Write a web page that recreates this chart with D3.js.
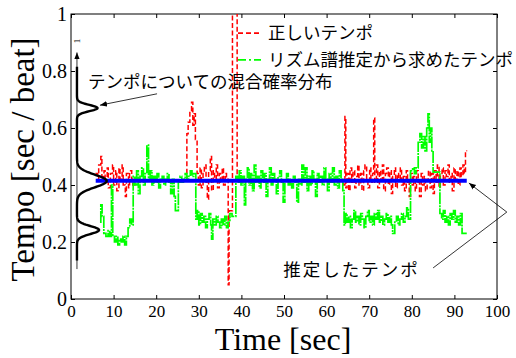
<!DOCTYPE html>
<html>
<head>
<meta charset="utf-8">
<script src="https://cdn.jsdelivr.net/npm/d3@7"></script>
<style>
  body { margin: 0; background: #fff; }
</style>
</head>
<body>
<svg id="chart" width="516" height="358"></svg>
<script>
// axis ticks
const xTicks = [0, 10, 20, 30, 40, 50, 60, 70, 80, 90, 100];
const yTicks = [0, 0.2, 0.4, 0.6, 0.8, 1];

// red dashed: true tempo [time sec, sec/beat]
const trueTempo = [
  [5.75, 0.44], [6.25, 0.42], [6.5, 0.47], [7.0, 0.50], [7.25, 0.43], [7.75, 0.45], [8.0, 0.41],
  [8.5, 0.46], [8.75, 0.39], [9.25, 0.44], [9.75, 0.47], [10.0, 0.40], [10.5, 0.45], [10.75, 0.38],
  [11.25, 0.46], [11.5, 0.42], [12.0, 0.47], [12.25, 0.40], [12.75, 0.36], [13.0, 0.44],
  [13.5, 0.39], [13.75, 0.45], [14.25, 0.42], [14.5, 0.40], [15.0, 0.415],
  [27.2, 0.58], [27.5, 0.62], [27.9, 0.66], [28.3, 0.69], [28.6, 0.61], [28.9, 0.65], [29.2, 0.56],
  [29.6, 0.44], [29.9, 0.40], [30.3, 0.46], [30.6, 0.39], [31.0, 0.44], [31.3, 0.47], [31.7, 0.41],
  [32.0, 0.35], [32.3, 0.45], [32.7, 0.50], [33.0, 0.38], [33.4, 0.45], [33.7, 0.42], [34.1, 0.47],
  [34.4, 0.39], [34.8, 0.44], [35.1, 0.41], [35.5, 0.46], [35.8, 0.40], [36.2, 0.44], [36.5, 0.42],
  [36.9, 0.05], [37.1, 0.31], [37.9, 1.3], [39.0, 0.42], [39.4, 0.415],
  [64.0, 0.40], [64.3, 0.64], [64.5, 0.39], [64.8, 0.44], [65.2, 0.38], [65.5, 0.46], [65.9, 0.41],
  [66.2, 0.45], [66.6, 0.39], [66.9, 0.43], [67.3, 0.47], [67.6, 0.40], [68.0, 0.44], [68.3, 0.38],
  [68.7, 0.45], [69.0, 0.47], [69.4, 0.42], [69.7, 0.39], [70.1, 0.46], [70.4, 0.41], [70.8, 0.44],
  [71.05, 0.635], [71.3, 0.41], [71.7, 0.47], [72.0, 0.39], [72.4, 0.45], [72.7, 0.42],
  [73.1, 0.47], [73.4, 0.38], [73.8, 0.44], [74.1, 0.46], [74.5, 0.40], [74.8, 0.45], [75.2, 0.37],
  [75.5, 0.43], [75.9, 0.46], [76.2, 0.39], [76.6, 0.44], [76.9, 0.42], [77.3, 0.46], [77.6, 0.40],
  [78.0, 0.43], [78.3, 0.38], [78.7, 0.45], [79.0, 0.41], [79.4, 0.36], [79.7, 0.44], [80.1, 0.40],
  [80.4, 0.43], [80.8, 0.38], [81.1, 0.45], [81.5, 0.41], [81.8, 0.36], [82.2, 0.44], [82.5, 0.40],
  [82.9, 0.43], [83.2, 0.38], [83.6, 0.42], [83.9, 0.45], [84.3, 0.39], [84.6, 0.44], [85.0, 0.37],
  [85.3, 0.45], [85.7, 0.41], [86.0, 0.47], [86.4, 0.39], [86.7, 0.44], [87.1, 0.46], [87.4, 0.40],
  [87.8, 0.45], [88.1, 0.43], [88.5, 0.47], [88.8, 0.41], [89.2, 0.44], [89.5, 0.38], [89.9, 0.46],
  [90.2, 0.42], [90.6, 0.45], [90.9, 0.40], [91.3, 0.46], [91.6, 0.43], [92.0, 0.47], [92.3, 0.44],
  [92.6, 0.52], [93.0, 0.52]
];

// green dash-dot: tempo from estimated rhythm score
const rhythmTempo = [
  [6.8, 0.27], [7.0, 0.33], [7.3, 0.29], [7.7, 0.23], [8.2, 0.22], [8.7, 0.24], [9.1, 0.22],
  [9.5, 0.40], [9.8, 0.22], [10.2, 0.20], [10.6, 0.22], [11.0, 0.19], [11.4, 0.21], [11.8, 0.20],
  [12.2, 0.22], [12.6, 0.19], [13.0, 0.22], [13.4, 0.25], [13.8, 0.28], [14.2, 0.26],
  [14.6, 0.43], [15.0, 0.40], [15.4, 0.45], [15.8, 0.37], [16.2, 0.43], [16.6, 0.46], [17.0, 0.40],
  [17.4, 0.44], [17.8, 0.54], [18.2, 0.42], [18.6, 0.45], [19.0, 0.40], [19.4, 0.43], [19.8, 0.41],
  [20.2, 0.44], [20.6, 0.39], [21.0, 0.42], [21.4, 0.43], [21.8, 0.40], [22.2, 0.42], [22.6, 0.44],
  [23.0, 0.41], [23.4, 0.37], [23.8, 0.42], [24.2, 0.36], [24.5, 0.31], [25.2, 0.41], [25.6, 0.43],
  [26.0, 0.41], [26.4, 0.42], [26.8, 0.44], [27.2, 0.42], [27.6, 0.43], [28.0, 0.45], [28.4, 0.43],
  [28.8, 0.44], [29.3, 0.28], [29.6, 0.31], [30.0, 0.26], [30.4, 0.30], [30.8, 0.27], [31.2, 0.29],
  [31.6, 0.25], [32.0, 0.28], [32.4, 0.30], [32.8, 0.26], [33.0, 0.21], [33.3, 0.28], [33.7, 0.26],
  [34.1, 0.29], [34.5, 0.27], [34.9, 0.25], [35.3, 0.28], [35.7, 0.26], [36.1, 0.29], [36.5, 0.25],
  [36.9, 0.27], [37.3, 0.30], [37.8, 0.29], [38.7, 0.43], [39.1, 0.41], [39.5, 0.45], [39.9, 0.40],
  [40.3, 0.43], [40.7, 0.33], [41.0, 0.42], [41.4, 0.46], [41.8, 0.40], [42.2, 0.44], [42.6, 0.38],
  [43.0, 0.47], [43.4, 0.41], [43.8, 0.43], [44.2, 0.39], [44.6, 0.45], [45.0, 0.41], [45.4, 0.44],
  [45.8, 0.36], [46.2, 0.42], [46.6, 0.46], [47.0, 0.40], [47.4, 0.44], [47.8, 0.42], [48.2, 0.37],
  [48.6, 0.43], [49.0, 0.45], [49.4, 0.41], [49.8, 0.34], [50.2, 0.42], [50.6, 0.44], [51.0, 0.40],
  [51.4, 0.42], [51.8, 0.39], [52.2, 0.43], [52.6, 0.41], [53.0, 0.34], [53.4, 0.42], [53.8, 0.40],
  [54.2, 0.47], [54.6, 0.41], [55.0, 0.46], [55.4, 0.38], [55.8, 0.43], [56.2, 0.40], [56.6, 0.45],
  [57.0, 0.42], [57.4, 0.36], [57.8, 0.44], [58.2, 0.41], [58.6, 0.43], [59.0, 0.40], [59.4, 0.46],
  [59.8, 0.42], [60.2, 0.38], [60.6, 0.44], [61.0, 0.41], [61.4, 0.46], [61.8, 0.40], [62.2, 0.43],
  [62.6, 0.39], [63.0, 0.45], [63.4, 0.42], [63.8, 0.38], [64.1, 0.26], [64.4, 0.30], [64.8, 0.27],
  [65.2, 0.29], [65.6, 0.25], [66.0, 0.28], [66.4, 0.31], [66.8, 0.27], [67.2, 0.29], [67.6, 0.26],
  [68.0, 0.30], [68.4, 0.28], [68.8, 0.25], [69.2, 0.29], [69.6, 0.31], [70.0, 0.27], [70.4, 0.29],
  [70.8, 0.26], [71.2, 0.30], [71.6, 0.28], [72.0, 0.31], [72.4, 0.27], [72.8, 0.29], [73.2, 0.26],
  [73.6, 0.28], [74.0, 0.30], [74.4, 0.27], [74.8, 0.29], [75.2, 0.26], [75.5, 0.23], [76.0, 0.27],
  [76.4, 0.29], [76.8, 0.26], [77.2, 0.28], [77.6, 0.30], [78.0, 0.27], [78.4, 0.29], [78.8, 0.32],
  [79.2, 0.28], [79.7, 0.45], [80.2, 0.46], [80.6, 0.44], [81.0, 0.46], [81.5, 0.55], [81.9, 0.58],
  [82.3, 0.53], [82.7, 0.57], [83.1, 0.52], [83.5, 0.60], [83.8, 0.65], [84.1, 0.55], [84.4, 0.60],
  [84.7, 0.52], [85.0, 0.445], [86.6, 0.30], [87.0, 0.28], [87.4, 0.31], [87.8, 0.27], [88.2, 0.29],
  [88.6, 0.26], [89.0, 0.30], [89.4, 0.28], [89.8, 0.31], [90.2, 0.27], [90.6, 0.29], [91.0, 0.26],
  [91.4, 0.30], [91.8, 0.23], [92.9, 0.23]
];

// blue: estimated tempo
const estTempo = [[5.8, 0.415], [92.9, 0.415]];

// mixture distribution of tempo (drawn sideways on the left)
const mixMean = [0.67, 0.414, 0.242];
const mixSd = [0.011, 0.022, 0.014];
const mixWeight = [0.19, 0.55, 0.26];
const mixRange = [0.135, 0.815];
const mixBaseTime = 1.4;

const legendLabels = ["正しいテンポ", "リズム譜推定から求めたテンポ"];
const mixLabel = "テンポについての混合確率分布";
const estLabel = "推定したテンポ";

const serifFont = "'Liberation Serif', 'Times New Roman', Times, serif";
const jpFont = "'Noto Sans CJK JP', sans-serif";

var margin = { top: 14, right: 19, bottom: 59, left: 71 },
  width = 516 - margin.left - margin.right,
  height = 358 - margin.top - margin.bottom;

var root = d3.select("#chart");
var defs = root.append("defs");
defs.append("clipPath").attr("id", "plotclip")
  .append("rect").attr("width", width).attr("height", height);
defs.append("marker")
  .attr("id", "arrow")
  .attr("viewBox", "0 0 10 10")
  .attr("refX", 10).attr("refY", 5)
  .attr("markerWidth", 7).attr("markerHeight", 7)
  .attr("markerUnits", "userSpaceOnUse")
  .attr("orient", "auto")
  .append("path").attr("d", "M0,1 L10,5 L0,9 Z").attr("fill", "#000");

var svg = root.append("g")
  .attr("transform", "translate(" + margin.left + "," + margin.top + ")");

var x = d3.scaleLinear().domain([0, 100]).range([0, width]);
var y = d3.scaleLinear().domain([0, 1]).range([height, 0]);

// axes with inward ticks on all four sides
svg.append("g")
  .attr("transform", "translate(0," + height + ")")
  .call(d3.axisBottom(x).tickValues(xTicks).tickSizeInner(-4).tickSizeOuter(0).tickPadding(6))
  .attr("font-family", serifFont).attr("font-size", 17);
svg.append("g")
  .call(d3.axisLeft(y).tickValues(yTicks).tickSizeInner(-4).tickSizeOuter(0).tickPadding(4)
    .tickFormat(d => d === 0 || d === 1 ? d3.format("d")(d) : d3.format(".1f")(d)))
  .attr("font-family", serifFont).attr("font-size", 20);
svg.append("g")
  .call(d3.axisTop(x).tickValues(xTicks).tickSizeInner(-4).tickSizeOuter(0).tickFormat(""));
svg.append("g")
  .attr("transform", "translate(" + width + ",0)")
  .call(d3.axisRight(y).tickValues(yTicks).tickSizeInner(-4).tickSizeOuter(0).tickFormat(""));
svg.selectAll(".domain").remove();
svg.selectAll(".tick line").attr("stroke", "#000");
svg.selectAll(".tick text").attr("fill", "#000");
svg.append("rect")
  .attr("width", width).attr("height", height)
  .attr("fill", "none").attr("stroke", "#000").attr("stroke-width", 1);

// axis titles
root.append("text")
  .attr("x", margin.left + x(50) - 1).attr("y", 350)
  .attr("text-anchor", "middle")
  .attr("font-family", serifFont).attr("font-size", 32)
  .text("Time [sec]");
root.append("text")
  .attr("transform", "translate(34," + (margin.top + y(0.5) + 3) + ") rotate(-90)")
  .attr("text-anchor", "middle")
  .attr("font-family", serifFont).attr("font-size", 33)
  .text("Tempo [sec / beat]");

// data lines
var plot = svg.append("g").attr("clip-path", "url(#plotclip)");
var stepLine = d3.line()
  .x(function (d) { return x(d[0]); })
  .y(function (d) { return y(d[1]); })
  .curve(d3.curveStepAfter);

plot.append("path")
  .datum(trueTempo)
  .attr("d", stepLine)
  .attr("fill", "none")
  .attr("stroke", "#ff0000")
  .attr("stroke-width", 1.5)
  .attr("stroke-dasharray", "5,2.5");

plot.append("path")
  .datum(rhythmTempo)
  .attr("d", stepLine)
  .attr("fill", "none")
  .attr("stroke", "#00ff00")
  .attr("stroke-width", 1.7)
  .attr("stroke-dasharray", "12,1,2,1");

plot.append("path")
  .datum(estTempo)
  .attr("d", d3.line().x(d => x(d[0])).y(d => y(d[1])))
  .attr("fill", "none")
  .attr("stroke", "#0000ff")
  .attr("stroke-width", 4);

// mixture density, drawn along the tempo axis
var densX = d3.scaleLinear().domain([0, 10]).range([x(mixBaseTime), x(mixBaseTime + 7)]);
var mixPts = d3.range(mixRange[0], mixRange[1] + 1e-9, 0.002).map(function (v) {
  var dens = 0;
  for (var i = 0; i < mixMean.length; i++) {
    var z = (v - mixMean[i]) / mixSd[i];
    dens += mixWeight[i] * Math.exp(-0.5 * z * z) / (mixSd[i] * Math.sqrt(2 * Math.PI));
  }
  return [dens, v];
});
svg.append("line")
  .attr("x1", densX(0)).attr("x2", densX(0))
  .attr("y1", y(0.105)).attr("y2", y(0.865))
  .attr("stroke", "#000").attr("stroke-width", 0.8)
  .attr("marker-end", "url(#arrow)");
svg.append("text")
  .attr("transform", "translate(" + (densX(0) + 3) + "," + (y(0.905)) + ") rotate(-90)")
  .attr("text-anchor", "middle")
  .attr("font-family", serifFont).attr("font-size", 9)
  .text("1");
svg.append("path")
  .datum(mixPts)
  .attr("d", d3.line().x(d => densX(d[0])).y(d => y(d[1])))
  .attr("fill", "none")
  .attr("stroke", "#000")
  .attr("stroke-width", 2.4);

// legend
var legend = svg.append("g").attr("transform", "translate(" + (238 - margin.left) + ",0)");
var legendStyles = [
  { color: "#ff0000", dash: "5,3", v: 0.933 },
  { color: "#00ff00", dash: "8,3,2,3", v: 0.839 }
];
legendLabels.forEach(function (lab, i) {
  var yy = y(legendStyles[i].v);
  legend.append("line")
    .attr("x1", 0).attr("x2", 23).attr("y1", yy).attr("y2", yy)
    .attr("stroke", legendStyles[i].color).attr("stroke-width", 1.6)
    .attr("stroke-dasharray", legendStyles[i].dash);
  legend.append("text")
    .attr("x", 30).attr("y", yy + 6)
    .attr("font-family", jpFont).attr("font-size", 17.5)
    .text(lab);
});

// annotations
svg.append("text")
  .attr("x", x(4.0)).attr("y", y(0.74))
  .attr("font-family", jpFont).attr("font-size", 17.5)
  .text(mixLabel);
svg.append("line")
  .attr("x1", x(20.2)).attr("y1", y(0.72))
  .attr("x2", x(6.8)).attr("y2", y(0.68))
  .attr("stroke", "#000").attr("stroke-width", 0.8)
  .attr("marker-end", "url(#arrow)");

svg.append("text")
  .attr("x", x(49.8)).attr("y", y(0.08))
  .attr("font-family", jpFont).attr("font-size", 17.5)
  .attr("letter-spacing", "2px")
  .text(estLabel);
svg.append("path")
  .datum([[85.0, 0.109], [102.3, 0.305], [93.4, 0.407]])
  .attr("d", d3.line().x(d => x(d[0])).y(d => y(d[1])))
  .attr("fill", "none")
  .attr("stroke", "#000").attr("stroke-width", 0.8)
  .attr("marker-end", "url(#arrow)");
</script>
</body>
</html>
